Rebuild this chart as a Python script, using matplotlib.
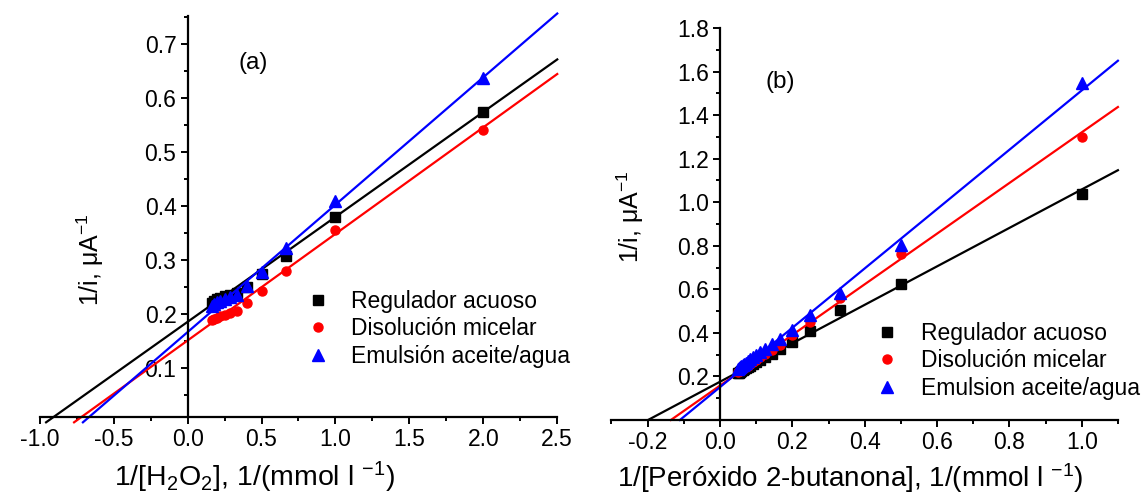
import numpy as np
import matplotlib
matplotlib.use("Agg")
import matplotlib.pyplot as plt
from matplotlib.ticker import MultipleLocator, FixedLocator, FormatStrFormatter

plt.rcParams['font.family'] = ['Liberation Sans', 'DejaVu Sans']
plt.rcParams['mathtext.fontset'] = 'custom'
plt.rcParams['mathtext.rm'] = 'Liberation Sans'
plt.rcParams['mathtext.it'] = 'Liberation Sans:italic'
plt.rcParams['mathtext.default'] = 'regular'
plt.rcParams['axes.unicode_minus'] = False

# ---- datos panel (a): 1/[H2O2]
xa = [2.0, 1.0, 0.667, 0.5, 0.4, 0.333, 0.286, 0.25, 0.222, 0.2, 0.182, 0.167]
ya_regulador = [0.575, 0.381, 0.308, 0.274, 0.25, 0.240, 0.236, 0.233, 0.231, 0.228, 0.224, 0.221]
ya_micelar = [0.541, 0.356, 0.281, 0.243, 0.221, 0.207, 0.202, 0.198, 0.196, 0.194, 0.192, 0.190]
ya_emulsion = [0.638, 0.410, 0.323, 0.279, 0.253, 0.236, 0.232, 0.228, 0.225, 0.222, 0.219, 0.216]
# ajustes lineales (pendiente, ordenada)
fit_a = {'regulador': (0.1944, 0.186), 'micelar': (0.1974, 0.1515), 'emulsion': (0.236, 0.167)}

# ---- datos panel (b): 1/[Peroxido 2-butanona]
xb = [1.0, 0.5, 0.333, 0.25, 0.2, 0.167, 0.143, 0.125, 0.111, 0.1, 0.0909,
      0.0833, 0.0769, 0.0714, 0.0667, 0.0625, 0.0588, 0.0556, 0.0526, 0.05]
yb_regulador = [1.04, 0.626, 0.503, 0.411, 0.358, 0.327, 0.301, 0.288, 0.276, 0.266, 0.257,
                0.25, 0.244, 0.238, 0.233, 0.228, 0.224, 0.221, 0.218, 0.215]
yb_micelar = [1.30, 0.764, 0.56, 0.45, 0.389, 0.346, 0.322, 0.303, 0.288, 0.276, 0.266,
              0.257, 0.25, 0.244, 0.238, 0.233, 0.229, 0.226, 0.223, 0.22]
yb_emulsion = [1.546, 0.802, 0.585, 0.48, 0.415, 0.373, 0.35, 0.328, 0.312, 0.298, 0.288,
               0.279, 0.271, 0.264, 0.257, 0.252, 0.247, 0.243, 0.239, 0.235]
fit_b = {'regulador': (0.883, 0.1757), 'micelar': (1.163, 0.158), 'emulsion': (1.3625, 0.151)}

labels_a = ['Regulador acuoso', 'Disolución micelar', 'Emulsión aceite/agua']
labels_b = ['Regulador acuoso', 'Disolución micelar', 'Emulsion aceite/agua']
colores = ['black', 'red', 'blue']
marcadores = [('s', 6.5), ('o', 6.5), ('^', 8)]

fig = plt.figure(figsize=(11.44, 4.95), dpi=100)
axa = fig.add_axes([0.0347, 0.1570, 0.4524, 0.8113])
axb = fig.add_axes([0.5345, 0.1515, 0.4427, 0.7919])


def panel(ax, x, series, fits, labels, xmax):
    handles = []
    for y, key, c, (m, ms), lab in zip(series, ['regulador', 'micelar', 'emulsion'],
                                         colores, marcadores, labels):
        h, = ax.plot(x, y, linestyle='none', marker=m, ms=ms, color=c, label=lab)
        handles.append(h)
        pend, ordn = fits[key]
        xl = np.array([-ordn / pend, xmax])
        ax.plot(xl, pend * xl + ordn, color=c, lw=1.6, clip_on=False)
    for s in ['top', 'right']:
        ax.spines[s].set_visible(False)
    ax.spines['left'].set_position(('data', 0))
    for s in ['left', 'bottom']:
        ax.spines[s].set_linewidth(1.6)
    ax.tick_params(which='major', direction='out', length=5, width=1.4, labelsize=16.5, pad=3)
    ax.tick_params(which='minor', direction='out', length=3, width=1.4)
    ax.patch.set_visible(False)
    ax.xaxis.set_major_formatter(FormatStrFormatter('%.1f'))
    ax.yaxis.set_major_formatter(FormatStrFormatter('%.1f'))
    return handles


ha = panel(axa, xa, [ya_regulador, ya_micelar, ya_emulsion], fit_a, labels_a, 2.5)
axa.set_xlim(-1.0, 2.5)
axa.set_ylim(0.0093, 0.753)
axa.xaxis.set_major_locator(MultipleLocator(0.5))
axa.xaxis.set_minor_locator(MultipleLocator(0.25))
axa.yaxis.set_major_locator(FixedLocator([0.1, 0.2, 0.3, 0.4, 0.5, 0.6, 0.7]))
axa.yaxis.set_minor_locator(FixedLocator(np.arange(0.05, 0.751, 0.05)))
axa.legend(handles=ha, loc='upper left', bbox_to_anchor=(0.5155, 0.318), frameon=False,
           fontsize=16.5, handlelength=1.0, handletextpad=0.95, labelspacing=0.2,
           borderpad=0, borderaxespad=0)
axa.text(0.412, 0.882, '(a)', transform=axa.transAxes, fontsize=17.5, ha='center', va='center')

hb = panel(axb, xb, [yb_regulador, yb_micelar, yb_emulsion], fit_b, labels_b, 1.1)
axb.set_xlim(-0.3, 1.1)
axb.set_ylim(0, 1.8)
axb.xaxis.set_major_locator(FixedLocator([-0.2, 0.0, 0.2, 0.4, 0.6, 0.8, 1.0]))
axb.xaxis.set_minor_locator(FixedLocator(np.arange(-0.3, 1.101, 0.1)))
axb.yaxis.set_major_locator(FixedLocator(np.arange(0.2, 1.81, 0.2)))
axb.yaxis.set_minor_locator(FixedLocator(np.arange(0.1, 1.81, 0.1)))
axb.legend(handles=hb, loc='upper left', bbox_to_anchor=(0.522, 0.251), frameon=False,
           fontsize=16.5, handlelength=1.0, handletextpad=0.95, labelspacing=0.2,
           borderpad=0, borderaxespad=0)
axb.text(0.333, 0.862, '(b)', transform=axb.transAxes, fontsize=17.5, ha='center', va='center')

# etiquetas de ejes
fig.text(0.0787, 0.4747, r'1/i, μA$^{-1}$', rotation=90, fontsize=18, ha='center', va='center')
fig.text(0.5507, 0.5616, r'1/i, μA$^{-1}$', rotation=90, fontsize=18, ha='center', va='center')
fig.text(0.2229, 1 - 486 / 495, r'1/[H$_2$O$_2$], 1/(mmol l $^{-1}$)', fontsize=20.5,
         ha='center', va='baseline')
fig.text(0.743, 1 - 487 / 495, r'1/[Peróxido 2-butanona], 1/(mmol l $^{-1}$)', fontsize=20,
         ha='center', va='baseline')

fig.savefig('out.png', dpi=100)
